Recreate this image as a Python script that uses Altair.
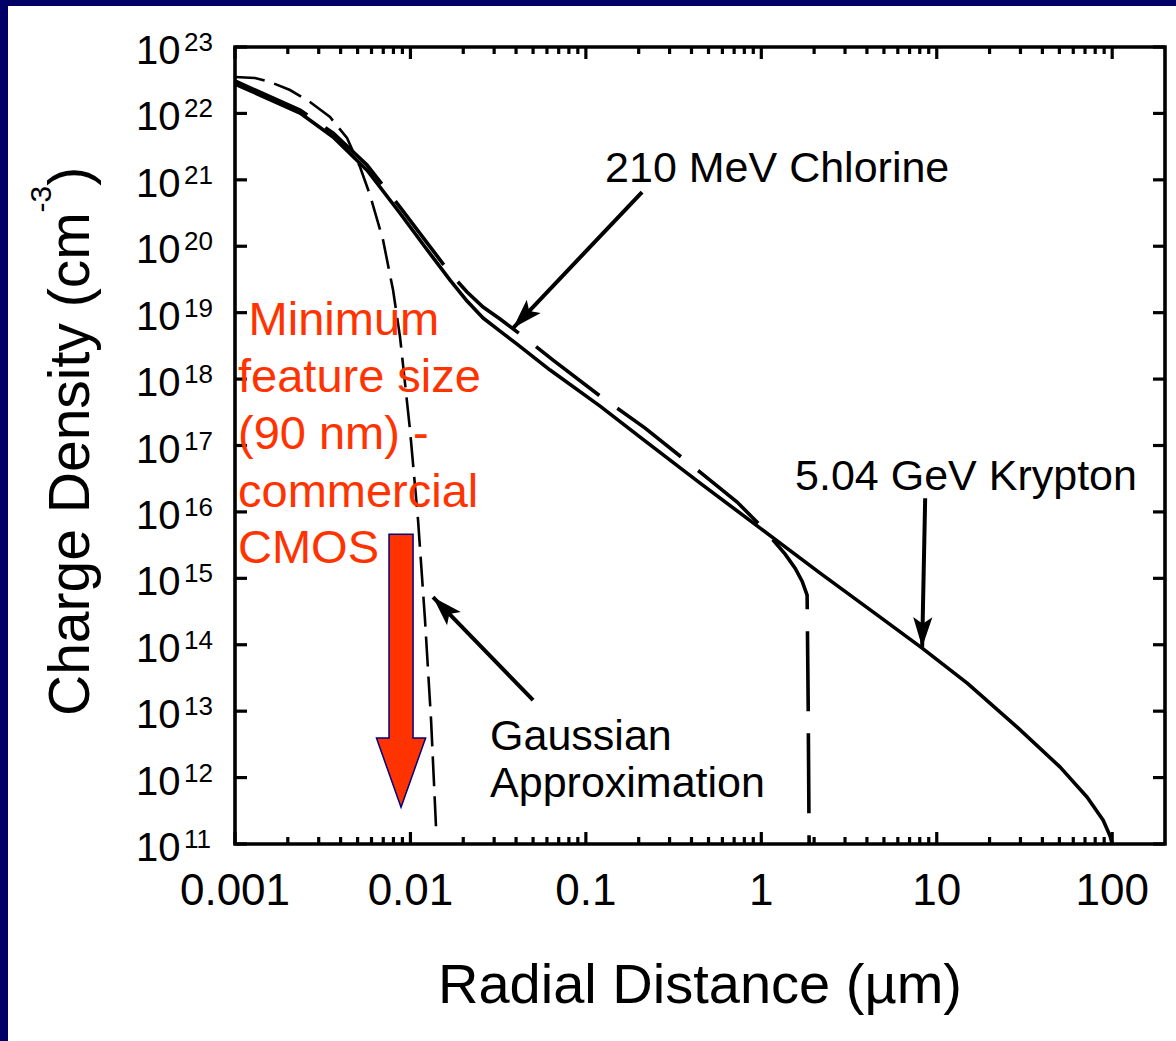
import altair as alt
import pandas as pd

FONT = "Liberation Sans"
NAVY = "#000066"
RED = "#FF3300"

# ---------------- data (radial distance in µm, density in cm^-3) -------------
kr_x = [0.001, 0.002348, 0.003621, 0.005657, 0.008724, 0.01211, 0.01682, 0.02102, 0.02594,
        0.03242, 0.04052, 0.0625, 0.1205, 0.2037, 0.4478, 0.9845, 2.164, 4.756, 8.257,
        14.91, 28.72, 50.52, 72.02, 88.85, 97.41, 100.0]
kr_y = [2.773e22, 1.014e22, 4.416e21, 1.396e21, 3.141e20, 9.727e19, 3.097e19, 1.496e19, 8.299e18,
        5.284e18, 3.365e18, 1.368e18, 3.917e17, 1.340e17, 2.716e16, 5.702e15, 1.197e15, 2.606e14,
        8.892e13, 2.642e13, 5.741e12, 1.436e12, 5.070e11, 2.280e11, 1.309e11, 1.0e11]

cl_x = [0.001, 0.002348, 0.003621, 0.005657, 0.008724, 0.01211, 0.01682, 0.02102, 0.02594,
        0.03242, 0.04215, 0.06501, 0.1205, 0.2176, 0.4478, 0.7278, 0.9845, 1.1675, 1.367,
        1.558, 1.708, 1.824, 1.849, 1.873]
cl_y = [3.076e22, 1.125e22, 5.070e21, 1.671e21, 3.890e20, 1.239e20, 3.945e19, 2.042e19, 1.213e19,
        8.017e18, 4.764e18, 1.932e18, 5.546e17, 1.828e17, 3.972e16, 1.406e16, 6.324e15, 3.758e15,
        2.312e15, 1.426e15, 9.078e14, 5.585e14, 1.466e13, 1.0e11]

ga_x = [0.001, 0.0013, 0.001583, 0.002058, 0.002677, 0.00348, 0.00435, 0.005161, 0.005884,
        0.006981, 0.00796, 0.008724, 0.009947, 0.01105, 0.01211, 0.01311, 0.0140]
ga_y = [3.532e22, 3.412e22, 2.972e22, 2.249e22, 1.486e22, 8.831e21, 4.266e21, 1.560e21, 5.902e20,
        1.239e20, 2.188e19, 4.295e18, 1.706e17, 7.534e15, 2.344e14, 7.311e12, 1.730e11]

# axis ticks and labels
x_major = [0.001, 0.01, 0.1, 1, 10, 100]
x_labels = ["0.001", "0.01", "0.1", "1", "10", "100"]
x_minor = [m * 10.0 ** k for k in range(-3, 2) for m in range(2, 10)]
y_exp = list(range(11, 24))
y_major = [10.0 ** e for e in y_exp]

# annotations (anchored in data units)
note_text = ["210 MeV Chlorine", "5.04 GeV Krypton", "Gaussian", "Approximation"]
note_x = [0.1287, 1.558, 0.02843, 0.02843]
note_y = [9.27e20, 2.13e16, 2.59e12, 5.07e11]

red_text = ["Minimum", "feature size", "(90 nm) -", "commercial", "CMOS"]
red_x = [0.001195, 0.00104, 0.00104, 0.00104, 0.00104]
red_y = [4.60e18, 6.37e17, 8.83e16, 1.18e16, 1.69e15]

arrow_x = [0.2091, 8.59, 0.0500]
arrow_y = [6.55e20, 1.61e16, 1.466e13]
arrow_x2 = [0.03846, 8.257, 0.01345]
arrow_y2 = [5.86e18, 9.20e13, 5.21e14]
arrow_angle = [223.5, 181.2, 315.8]

big_arrow_x = [0.00884]
big_arrow_y = [4.07e13]

# ---------------- layout ----------------
W, H = 930, 797
PL, PT = 235, 47
X0, X1 = 0.001, 200.0
Y0, Y1 = 1e11, 1e23
DX = W / 5.30103   # px per decade along x
DY = H / 12.0      # px per decade along y

xs = alt.Scale(type="log", domain=[X0, X1], nice=False)
ys = alt.Scale(type="log", domain=[Y0, Y1], nice=False)


def ex(f):
    return alt.X(f"{f}:Q", scale=xs, axis=None)


def ey(f):
    return alt.Y(f"{f}:Q", scale=ys, axis=None)


one = pd.DataFrame({"a": [0]})


def cdf(xv, yv):
    return pd.DataFrame({"x": xv, "y": yv, "i": list(range(len(xv)))})


kr = alt.Chart(cdf(kr_x, kr_y)).mark_line(color="black", strokeWidth=3.6, strokeJoin="round").encode(
    x=ex("x"), y=ey("y"), order="i:Q")
cl = alt.Chart(cdf(cl_x, cl_y)).mark_line(color="black", strokeWidth=3.6, strokeDash=[80, 22]).encode(
    x=ex("x"), y=ey("y"), order="i:Q")
ga = alt.Chart(cdf(ga_x, ga_y)).mark_line(color="black", strokeWidth=2.6, strokeDash=[30, 10]).encode(
    x=ex("x"), y=ey("y"), order="i:Q")

xmaj_df = pd.DataFrame({"t": x_major, "lab": x_labels})
ydf = pd.DataFrame({"t": y_major, "sup": [str(e) for e in y_exp]})

# inward ticks on all four sides, each one a two-point line segment (12 px major, 7 px minor)
seg = []


def add_seg(xa, ya, xb, yb):
    k = len(seg) // 2
    seg.append((k, 0, xa, ya))
    seg.append((k, 1, xb, yb))


for t in x_major:
    add_seg(t, Y0, t, Y0 * 10 ** (12 / DY))
    add_seg(t, Y1, t, Y1 / 10 ** (12 / DY))
for t in x_minor:
    add_seg(t, Y0, t, Y0 * 10 ** (7 / DY))
    add_seg(t, Y1, t, Y1 / 10 ** (7 / DY))
for t in y_major:
    add_seg(X0, t, X0 * 10 ** (12 / DX), t)
    add_seg(X1, t, X1 / 10 ** (12 / DX), t)
seg_df = pd.DataFrame(seg, columns=["id", "j", "x", "y"])
ticks = alt.Chart(seg_df).mark_line(color="black", strokeWidth=3.2, strokeCap="butt").encode(
    x=ex("x"), y=ey("y"), detail="id:N", order="j:Q")

frame = alt.Chart(one).mark_rect(fill="transparent", stroke="black", strokeWidth=3.6).encode(
    x=alt.value(0), x2=alt.value(W), y=alt.value(0), y2=alt.value(H))

xlab = alt.Chart(xmaj_df).mark_text(align="center", baseline="alphabetic", fontSize=44, font=FONT,
                                    color="black").encode(x=ex("t"), y=alt.value(905 - PT), text="lab:N")
ylab10 = alt.Chart(ydf).mark_text(align="left", baseline="alphabetic", fontSize=40, font=FONT,
                                  color="black", dy=17).encode(x=alt.value(136 - PL), y=ey("t"),
                                                              text=alt.value("10"))
ylabsup = alt.Chart(ydf).mark_text(align="left", baseline="alphabetic", fontSize=26, font=FONT,
                                   color="black", dy=4).encode(x=alt.value(184 - PL), y=ey("t"),
                                                              text="sup:N")

xtitle = alt.Chart(one).mark_text(align="center", baseline="alphabetic", fontSize=56, font=FONT,
                                  color="black").encode(x=alt.value(700 - PL), y=alt.value(1003 - PT),
                                                        text=alt.value("Radial Distance (µm)"))
yt_main = alt.Chart(one).mark_text(angle=270, align="left", baseline="alphabetic", fontSize=57,
                                   font=FONT, color="black").encode(
    x=alt.value(89 - PL), y=alt.value(716 - PT), text=alt.value("Charge Density (cm"))
yt_sup = alt.Chart(one).mark_text(angle=270, align="left", baseline="alphabetic", fontSize=30,
                                  font=FONT, color="black").encode(
    x=alt.value(51 - PL), y=alt.value(212.4 - PT), text=alt.value("-3"))
yt_end = alt.Chart(one).mark_text(angle=270, align="left", baseline="alphabetic", fontSize=57,
                                  font=FONT, color="black").encode(
    x=alt.value(89 - PL), y=alt.value(185.7 - PT), text=alt.value(")"))

notes = alt.Chart(pd.DataFrame({"x": note_x, "y": note_y, "text": note_text})).mark_text(
    align="left", baseline="alphabetic", fontSize=43, font=FONT, color="black").encode(
    x=ex("x"), y=ey("y"), text="text:N")

reds = alt.Chart(pd.DataFrame({"x": red_x, "y": red_y, "text": red_text})).mark_text(
    align="left", baseline="alphabetic", fontSize=47, font=FONT, color=RED).encode(
    x=ex("x"), y=ey("y"), text="text:N")

adf = pd.DataFrame({"x": arrow_x, "y": arrow_y, "x2": arrow_x2, "y2": arrow_y2, "angle": arrow_angle})
arrow_lines = alt.Chart(adf).mark_rule(color="black", strokeWidth=4).encode(
    x=ex("x"), y=ey("y"), x2="x2:Q", y2="y2:Q")
HEAD = "M0,0 L0.32,1 L0,0.78 L-0.32,1 Z"
arrow_heads = alt.Chart(adf).mark_point(shape=HEAD, filled=True, size=3600, color="black",
                                        opacity=1).encode(
    x=ex("x2"), y=ey("y2"), angle=alt.Angle("angle:Q", scale=None))

BIG = "M-0.088,-1 L0.088,-1 L0.088,0.494 L0.18,0.494 L0,1 L-0.18,0.494 L-0.088,0.494 Z"
big_arrow = alt.Chart(pd.DataFrame({"x": big_arrow_x, "y": big_arrow_y})).mark_point(
    shape=BIG, filled=True, size=74529, fill=RED, stroke="#000080", strokeWidth=1.5, opacity=1).encode(
    x=ex("x"), y=ey("y"))

# navy slide border (top and left strips)
border_top = alt.Chart(one).mark_rect(color=NAVY).encode(
    x=alt.value(-PL), x2=alt.value(1176 - PL), y=alt.value(-PT), y2=alt.value(6 - PT))
border_left = alt.Chart(one).mark_rect(color=NAVY).encode(
    x=alt.value(-PL), x2=alt.value(8 - PL), y=alt.value(-PT), y2=alt.value(1041 - PT))

chart = alt.layer(
    kr, cl, ga, ticks, frame, xlab, ylab10, ylabsup, xtitle, yt_main, yt_sup, yt_end,
    notes, reds, arrow_lines, arrow_heads, big_arrow, border_top, border_left
).properties(
    width=W, height=H,
    padding={"left": PL, "top": PT, "right": 1176 - PL - W, "bottom": 1041 - PT - H},
    autosize=alt.AutoSizeParams(type="none"),
    background="white",
).configure_view(strokeWidth=0)

chart.save("out.html", embed_options={"renderer": "svg", "actions": False})
